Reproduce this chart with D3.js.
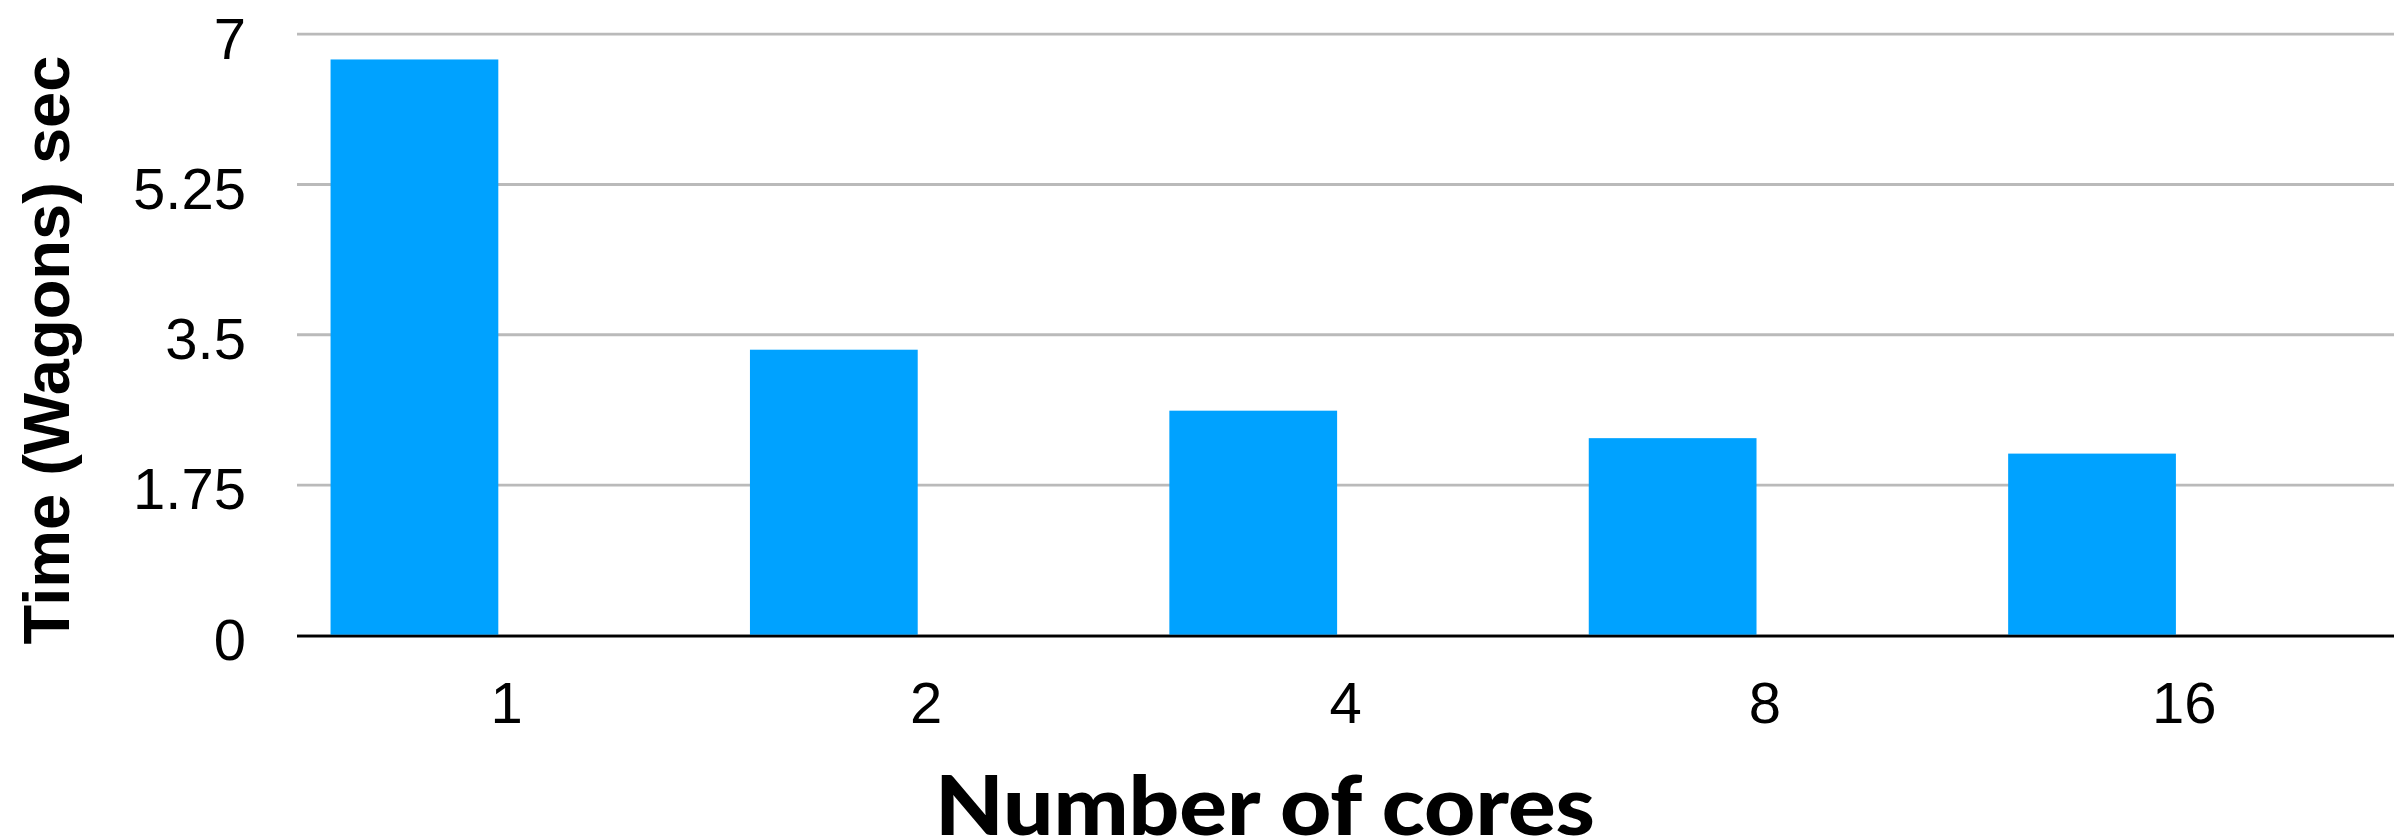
<!DOCTYPE html>
<html>
<head>
<meta charset="utf-8">
<script src="https://cdn.jsdelivr.net/npm/d3@7"></script>
<style>
  html, body { margin: 0; padding: 0; background: #fff; }
  svg { display: block; }
</style>
</head>
<body>
<svg id="chart" width="2395" height="838"></svg>
<script>
// ---- data ----
const categories = ["1", "2", "4", "8", "16"];
const values = [6.70, 3.32, 2.61, 2.29, 2.11];
const yTicks = [0, 1.75, 3.5, 5.25, 7];
const yTickLabels = ["0", "1.75", "3.5", "5.25", "7"];
const xTitle = "Number of cores";
const yTitle = "Time (Wagons) sec";

(function () {
// ---- layout ----
const plotLeft = 297, plotRight = 2394, plotTop = 33.7, plotBottom = 634.8;

const svg = d3.select("#chart");

const x = d3.scaleBand().domain(categories).range([plotLeft, plotRight]).paddingInner(0).paddingOuter(0);
const y = d3.scaleLinear().domain([0, 7]).range([plotBottom, plotTop]);

// gridlines + y tick labels
const yAxis = d3.axisLeft(y)
  .tickValues(yTicks)
  .tickFormat((d, i) => yTickLabels[i])
  .tickSize(-(plotRight - plotLeft))
  .tickPadding(51);

const gy = svg.append("g").attr("transform", `translate(${plotLeft},0)`).call(yAxis);
gy.select(".domain").remove();
gy.selectAll(".tick line")
  .attr("stroke", "#bababa")
  .attr("stroke-width", 2.8);
gy.selectAll(".tick text")
  .attr("fill", "#000")
  .attr("dy", "0.42em")
  .style("font-family", "'Liberation Sans', Arial, Helvetica, sans-serif")
  .style("font-size", "58px");

// bars
const bw = x.bandwidth();
svg.append("g").selectAll("rect")
  .data(values)
  .join("rect")
  .attr("x", (d, i) => x(categories[i]) + bw * 0.08)
  .attr("width", bw * 0.40)
  .attr("y", d => y(d))
  .attr("height", d => y(0) - y(d))
  .attr("fill", "#00A2FF");

// x axis baseline + labels
const xAxis = d3.axisBottom(x).tickSize(0).tickPadding(0);
const gx = svg.append("g").attr("transform", `translate(0,${y(0)})`).call(xAxis);
gx.select(".domain").remove();
gx.selectAll(".tick text")
  .attr("fill", "#000")
  .attr("y", 723 - plotBottom)
  .attr("dy", 0)
  .style("font-family", "'Liberation Sans', Arial, Helvetica, sans-serif")
  .style("font-size", "58px");

svg.append("line")
  .attr("x1", plotLeft).attr("x2", plotRight)
  .attr("y1", y(0) + 1.3).attr("y2", y(0) + 1.3)
  .attr("stroke", "#000")
  .attr("stroke-width", 2.8);

// axis titles
svg.append("text")
  .attr("x", 1265)
  .attr("y", 835)
  .attr("text-anchor", "middle")
  .attr("textLength", 660)
  .attr("lengthAdjust", "spacingAndGlyphs")
  .style("font-family", "Lato, 'Open Sans', sans-serif")
  .style("font-weight", 900)
  .style("font-size", "82px")
  .attr("fill", "#000")
  .text(xTitle);

svg.append("text")
  .attr("transform", "translate(69,350) rotate(-90)")
  .attr("text-anchor", "middle")
  .style("font-family", "'Liberation Sans', Arial, Helvetica, sans-serif")
  .style("font-weight", "bold")
  .style("font-size", "65px")
  .attr("fill", "#000")
  .text(yTitle);
})();
</script>
</body>
</html>
